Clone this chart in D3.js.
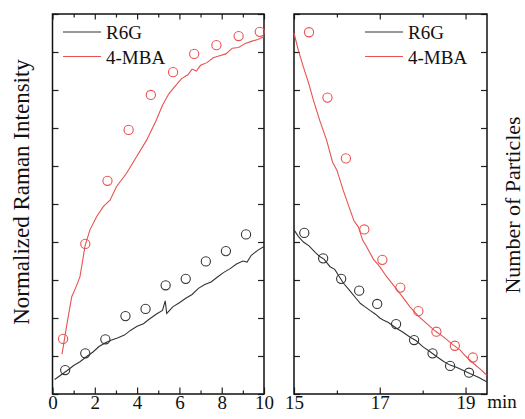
<!DOCTYPE html>
<html>
<head>
<meta charset="utf-8">
<script src="https://cdn.jsdelivr.net/npm/d3@7"></script>
<style>
  body { margin: 0; background: #fff; }
  svg text { font-family: "Liberation Serif", "Times New Roman", "DejaVu Serif", serif; }
  .axis path { display: none; }
  .axis line { stroke: #222; stroke-width: 1.2; }
</style>
</head>
<body>
<div id="chart"></div>
<script>
// ---- data ----
// left panel: growth, 0-10 min
const growTimeR6G = [0.6, 1.55, 2.5, 3.45, 4.4, 5.35, 6.3, 7.25, 8.2, 9.15];
const growParticlesR6G = [0.63, 1.07, 1.44, 2.05, 2.24, 2.86, 3.03, 3.49, 3.76, 4.2];
const growTimeMBA = [0.5, 1.55, 2.6, 3.6, 4.65, 5.7, 6.7, 7.75, 8.8, 9.8];
const growParticlesMBA = [1.45, 3.95, 5.61, 6.95, 7.87, 8.47, 8.95, 9.18, 9.42, 9.53];

const growLineTimeR6G = [0.1, 0.4, 0.7, 1.0, 1.3, 1.6, 1.9, 2.2, 2.5, 2.8, 3.1, 3.4, 3.7, 4.0, 4.3, 4.6, 4.9, 5.2, 5.33, 5.4, 5.7, 6.0, 6.3, 6.6, 6.9, 7.2, 7.5, 7.8, 8.1, 8.4, 8.7, 9.0, 9.2, 9.4, 9.7, 10.0];
const growRamanR6G = [0.38, 0.5, 0.62, 0.75, 0.85, 0.98, 1.1, 1.25, 1.35, 1.42, 1.48, 1.55, 1.68, 1.78, 1.85, 1.98, 2.1, 2.2, 2.45, 2.12, 2.3, 2.4, 2.52, 2.62, 2.78, 2.88, 2.95, 3.08, 3.2, 3.3, 3.42, 3.5, 3.47, 3.65, 3.78, 3.88];
const growLineTimeMBA = [0.45, 0.7, 0.91, 1.1, 1.3, 1.54, 1.77, 2.09, 2.4, 2.72, 3.03, 3.5, 3.98, 4.45, 4.9, 5.2, 5.5, 5.8, 6.1, 6.4, 6.6, 6.8, 7.0, 7.3, 7.6, 7.9, 8.2, 8.5, 8.8, 9.1, 9.4, 9.7, 10.0];
const growRamanMBA = [1.05, 1.9, 2.56, 2.8, 3.09, 3.9, 4.32, 4.67, 4.93, 5.1, 5.46, 5.81, 6.25, 6.68, 7.2, 7.6, 7.9, 8.1, 8.3, 8.4, 8.55, 8.5, 8.65, 8.72, 8.85, 8.9, 8.95, 9.1, 9.12, 9.22, 9.28, 9.33, 9.4];

// right panel: decay, 15-19.5 min
const decayTimeR6G = [15.24, 15.68, 16.1, 16.52, 16.94, 17.38, 17.8, 18.23, 18.64, 19.08];
const decayParticlesR6G = [4.24, 3.57, 3.03, 2.72, 2.37, 1.84, 1.42, 1.07, 0.74, 0.56];
const decayTimeMBA = [15.35, 15.78, 16.21, 16.64, 17.06, 17.48, 17.9, 18.32, 18.75, 19.17];
const decayParticlesMBA = [9.52, 7.8, 6.2, 4.33, 3.53, 2.8, 2.18, 1.64, 1.27, 0.96];

const decayLineTimeR6G = [15.0, 15.1, 15.22, 15.35, 15.5, 15.6, 15.7, 15.84, 15.95, 16.05, 16.15, 16.3, 16.46, 16.55, 16.65, 16.77, 16.9, 17.0, 17.08, 17.2, 17.39, 17.55, 17.7, 17.85, 18.01, 18.15, 18.33, 18.5, 18.64, 18.8, 18.95, 19.1, 19.3, 19.49];
const decayRamanR6G = [4.32, 4.15, 4.0, 3.9, 3.72, 3.62, 3.55, 3.35, 3.28, 3.1, 2.92, 2.72, 2.5, 2.38, 2.3, 2.2, 2.1, 2.0, 1.95, 1.88, 1.73, 1.62, 1.5, 1.4, 1.24, 1.13, 0.98, 0.85, 0.76, 0.7, 0.62, 0.54, 0.44, 0.32];
const decayLineTimeMBA = [15.0, 15.1, 15.22, 15.35, 15.45, 15.6, 15.76, 15.9, 16.0, 16.15, 16.31, 16.4, 16.5, 16.6, 16.69, 16.85, 17.0, 17.15, 17.35, 17.5, 17.7, 17.9, 18.09, 18.3, 18.48, 18.7, 18.87, 19.0, 19.18, 19.35, 19.49];
const decayRamanMBA = [9.5, 9.05, 8.6, 8.15, 7.74, 7.2, 6.68, 6.1, 5.89, 5.35, 4.84, 4.55, 4.4, 4.05, 3.88, 3.55, 3.35, 3.1, 2.82, 2.6, 2.3, 2.05, 1.86, 1.65, 1.51, 1.3, 1.16, 1.0, 0.81, 0.65, 0.5];

const seriesNames = ["R6G", "4-MBA"];
const seriesColors = { "R6G": "#333333", "4-MBA": "#e8524f" };
const serif = '"Liberation Serif", "Times New Roman", "DejaVu Serif", serif';

const width = 525, height = 419;
const svg = d3.select("#chart").append("svg")
  .attr("width", width)
  .attr("height", height);

const y = d3.scaleLinear().domain([0, 10]).range([394, 14]);

const zip = (xs, ys) => xs.map((t, i) => [t, ys[i]]);

const drawPanel = (cfg) => {
  const x = d3.scaleLinear().domain(cfg.domain).range(cfg.range);
  const g = svg.append("g");

  // ticks, all pointing inward
  const minor = cfg.minor, major = cfg.major;
  g.append("g").attr("class", "axis").attr("transform", "translate(0,394)")
    .call(d3.axisBottom(x).tickValues(minor).tickSize(-3.5).tickFormat(""));
  g.append("g").attr("class", "axis").attr("transform", "translate(0,394)")
    .call(d3.axisBottom(x).tickValues(major).tickSize(-6.5).tickPadding(1).tickFormat(d3.format("d")))
    .selectAll("text")
    .style("font-family", serif)
    .style("font-size", "19px")
    .attr("fill", "#111");
  g.append("g").attr("class", "axis").attr("transform", "translate(0,14)")
    .call(d3.axisTop(x).tickValues(minor).tickSize(-3.5).tickFormat(""));
  g.append("g").attr("class", "axis").attr("transform", "translate(0,14)")
    .call(d3.axisTop(x).tickValues(major).tickSize(-5.5).tickFormat(""));
  g.append("g").attr("class", "axis").attr("transform", `translate(${cfg.range[0]},0)`)
    .call(d3.axisLeft(y).ticks(10).tickSize(-6).tickFormat(""));
  g.append("g").attr("class", "axis").attr("transform", `translate(${cfg.range[1]},0)`)
    .call(d3.axisRight(y).ticks(10).tickSize(-6).tickFormat(""));

  // frame
  g.append("rect")
    .attr("x", cfg.range[0]).attr("y", 14)
    .attr("width", cfg.range[1] - cfg.range[0]).attr("height", 380)
    .attr("fill", "none").attr("stroke", "#111").attr("stroke-width", 1.5);

  const line = d3.line().x(d => x(d[0])).y(d => y(d[1]));

  cfg.lines.forEach(l => {
    g.append("path")
      .datum(zip(l.t, l.v))
      .attr("d", line)
      .attr("fill", "none")
      .attr("stroke", seriesColors[l.name])
      .attr("stroke-width", 1.1);
  });

  cfg.points.forEach(p => {
    g.selectAll(null)
      .data(zip(p.t, p.v))
      .enter()
      .append("circle")
      .attr("cx", d => x(d[0]))
      .attr("cy", d => y(d[1]))
      .attr("r", 4.6)
      .attr("fill", "none")
      .attr("stroke", seriesColors[p.name])
      .attr("stroke-width", 1.1);
  });

  // legend
  seriesNames.forEach((name, i) => {
    const ly = 32 + i * 24.5;
    g.append("line")
      .attr("x1", cfg.legendX).attr("x2", cfg.legendX + 38)
      .attr("y1", ly).attr("y2", ly)
      .attr("stroke", seriesColors[name]).attr("stroke-width", 1.1);
    g.append("text")
      .attr("x", cfg.legendX + 43).attr("y", ly + 7)
      .style("font-family", serif)
      .style("font-size", "19px")
      .attr("fill", "#111")
      .text(name);
  });
};

drawPanel({
  domain: [0, 10], range: [52.5, 264],
  major: [0, 2, 4, 6, 8, 10], minor: [1, 3, 5, 7, 9],
  legendX: 63,
  lines: [
    { name: "R6G", t: growLineTimeR6G, v: growRamanR6G },
    { name: "4-MBA", t: growLineTimeMBA, v: growRamanMBA }
  ],
  points: [
    { name: "R6G", t: growTimeR6G, v: growParticlesR6G },
    { name: "4-MBA", t: growTimeMBA, v: growParticlesMBA }
  ]
});

drawPanel({
  domain: [15, 19.5], range: [294, 487],
  major: [15, 17, 19], minor: [16, 18],
  legendX: 365,
  lines: [
    { name: "R6G", t: decayLineTimeR6G, v: decayRamanR6G },
    { name: "4-MBA", t: decayLineTimeMBA, v: decayRamanMBA }
  ],
  points: [
    { name: "R6G", t: decayTimeR6G, v: decayParticlesR6G },
    { name: "4-MBA", t: decayTimeMBA, v: decayParticlesMBA }
  ]
});

// unit and axis titles
svg.append("text")
  .attr("x", 502).attr("y", 408)
  .attr("text-anchor", "middle")
  .style("font-family", serif)
  .style("font-size", "19px")
  .attr("fill", "#111")
  .text("min");

svg.append("text")
  .attr("transform", "translate(29,192) rotate(-90)")
  .attr("text-anchor", "middle")
  .style("font-family", serif)
  .style("font-size", "23px")
  .attr("fill", "#111")
  .text("Normalized Raman Intensity");

svg.append("text")
  .attr("transform", "translate(520,205) rotate(-90)")
  .attr("text-anchor", "middle")
  .style("font-family", serif)
  .style("font-size", "22px")
  .attr("fill", "#111")
  .text("Number of Particles");
</script>
</body>
</html>
